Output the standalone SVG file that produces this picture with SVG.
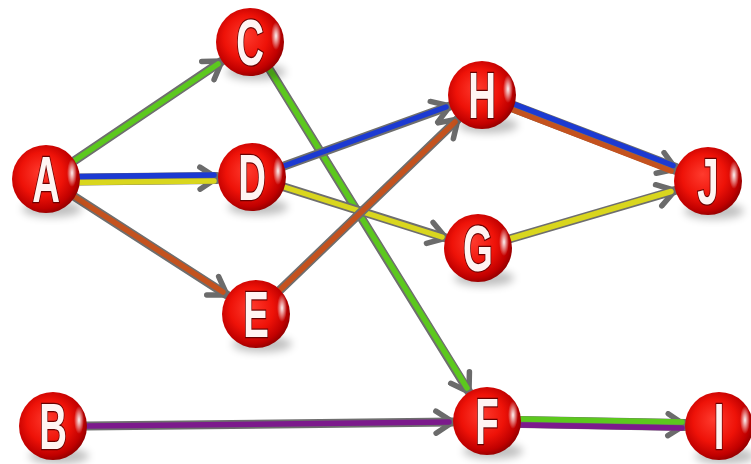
<svg xmlns="http://www.w3.org/2000/svg" xmlns:xlink="http://www.w3.org/1999/xlink" width="751" height="464" viewBox="0 0 751 464">
<defs>
  <style>
    .shaft{stroke:#6e6e6e;stroke-width:9;stroke-linecap:round;fill:none;marker-end:url(#ah)}
    .shaft2{stroke:#6e6e6e;stroke-width:12;stroke-linecap:round;fill:none;marker-end:url(#ah)}
    .c{stroke-width:5.5;stroke-linecap:round;fill:none}
    .green{stroke:#5cc81e}
    .blue{stroke:#1c3ad2}
    .yellow{stroke:#d9d61e}
    .brown{stroke:#c4521e}
    .purple{stroke:#7c1a8c}
    .lbl{font-family:"Liberation Sans",Arial,sans-serif;font-weight:bold;font-size:64px;fill:#fff4f2;stroke:#6a0000;stroke-width:2.5;paint-order:stroke;text-anchor:middle}
  </style>
  <marker id="ah" viewBox="0 0 28 28" refX="23" refY="14" markerWidth="28" markerHeight="28" markerUnits="userSpaceOnUse" orient="auto">
    <path d="M6,3 L23,14 L6,25" fill="none" stroke="#6b6b6b" stroke-width="5.5" stroke-linecap="round" stroke-linejoin="round"/>
  </marker>
  <radialGradient id="red" cx="0.45" cy="0.45" r="0.58" fx="0.42" fy="0.4">
    <stop offset="0" stop-color="#ff3b2e"/>
    <stop offset="0.55" stop-color="#ee1208"/>
    <stop offset="0.85" stop-color="#c00000"/>
    <stop offset="1" stop-color="#8c0000"/>
  </radialGradient>
  <radialGradient id="hl" cx="0.5" cy="0.5" r="0.5">
    <stop offset="0" stop-color="#ffffff" stop-opacity="0.95"/>
    <stop offset="1" stop-color="#ffffff" stop-opacity="0"/>
  </radialGradient>
  <filter id="blur" x="-50%" y="-50%" width="200%" height="200%">
    <feGaussianBlur stdDeviation="4"/>
  </filter>
  <g id="ball">
    <ellipse cx="6" cy="30" rx="30" ry="8" fill="#000" opacity="0.25" filter="url(#blur)"/>
    <circle r="34" fill="url(#red)"/>
    <ellipse cx="26" cy="-6" rx="5" ry="14" fill="url(#hl)"/>
  </g>
</defs>
<rect width="751" height="464" fill="#ffffff"/>

<g id="connectors">
  <g id="A-C"><line class="shaft" x1="74" y1="161" x2="222" y2="61"/><line class="c green" x1="74" y1="161" x2="218" y2="64"/></g>
  <g id="A-D"><line class="shaft2" x1="80" y1="179.5" x2="217" y2="178"/><line class="c blue" x1="80" y1="176.5" x2="214" y2="175"/><line class="c yellow" x1="80" y1="182.5" x2="214" y2="181"/></g>
  <g id="A-E"><line class="shaft" x1="75" y1="197" x2="227" y2="295"/><line class="c brown" x1="75" y1="197" x2="223" y2="292"/></g>
  <g id="C-F"><line class="shaft" x1="270" y1="70" x2="469" y2="392"/><line class="c green" x1="270" y1="70" x2="467" y2="388"/></g>
  <g id="D-H"><line class="shaft" x1="284" y1="166" x2="450" y2="106"/><line class="c blue" x1="284" y1="166" x2="446" y2="107"/></g>
  <g id="D-G"><line class="shaft" x1="284" y1="187" x2="446" y2="238"/><line class="c yellow" x1="284" y1="187" x2="442" y2="237"/></g>
  <g id="E-H"><line class="shaft" x1="280" y1="290" x2="458" y2="119"/><line class="c brown" x1="280" y1="290" x2="455" y2="122"/></g>
  <g id="H-J"><line class="shaft2" x1="514" y1="107" x2="676" y2="169"/><line class="c blue" x1="515" y1="104.5" x2="673" y2="165.5"/><line class="c brown" x1="513" y1="110" x2="671" y2="171"/></g>
  <g id="G-J"><line class="shaft" x1="511" y1="238.5" x2="675" y2="190.5"/><line class="c yellow" x1="511" y1="238.5" x2="671" y2="191.5"/></g>
  <g id="B-F"><line class="shaft" x1="86" y1="426" x2="453" y2="422"/><line class="c purple" x1="86" y1="426" x2="449" y2="422"/></g>
  <g id="F-I"><line class="shaft2" x1="521" y1="422" x2="685" y2="425"/><line class="c green" x1="521" y1="419" x2="682" y2="422"/><line class="c purple" x1="521" y1="425" x2="682" y2="428"/></g>
</g>

<g id="node-A" transform="translate(46,179)"><use href="#ball"/><text class="lbl" transform="translate(0,23) scale(0.6,1)">A</text></g>
<g id="node-B" transform="translate(53,426)"><use href="#ball"/><text class="lbl" transform="translate(0,23) scale(0.6,1)">B</text></g>
<g id="node-C" transform="translate(250,42)"><use href="#ball"/><text class="lbl" transform="translate(0,23) scale(0.6,1)">C</text></g>
<g id="node-D" transform="translate(252,177)"><use href="#ball"/><text class="lbl" transform="translate(0,23) scale(0.6,1)">D</text></g>
<g id="node-E" transform="translate(256,314)"><use href="#ball"/><text class="lbl" transform="translate(0,23) scale(0.6,1)">E</text></g>
<g id="node-H" transform="translate(482,95)"><use href="#ball"/><text class="lbl" transform="translate(0,23) scale(0.6,1)">H</text></g>
<g id="node-G" transform="translate(478,248)"><use href="#ball"/><text class="lbl" transform="translate(0,23) scale(0.6,1)">G</text></g>
<g id="node-J" transform="translate(708,181)"><use href="#ball"/><text class="lbl" transform="translate(0,23) scale(0.6,1)">J</text></g>
<g id="node-F" transform="translate(487,421)"><use href="#ball"/><text class="lbl" transform="translate(0,23) scale(0.6,1)">F</text></g>
<g id="node-I" transform="translate(719,426)"><use href="#ball"/><text class="lbl" transform="translate(0,23) scale(0.6,1)">I</text></g>
</svg>
